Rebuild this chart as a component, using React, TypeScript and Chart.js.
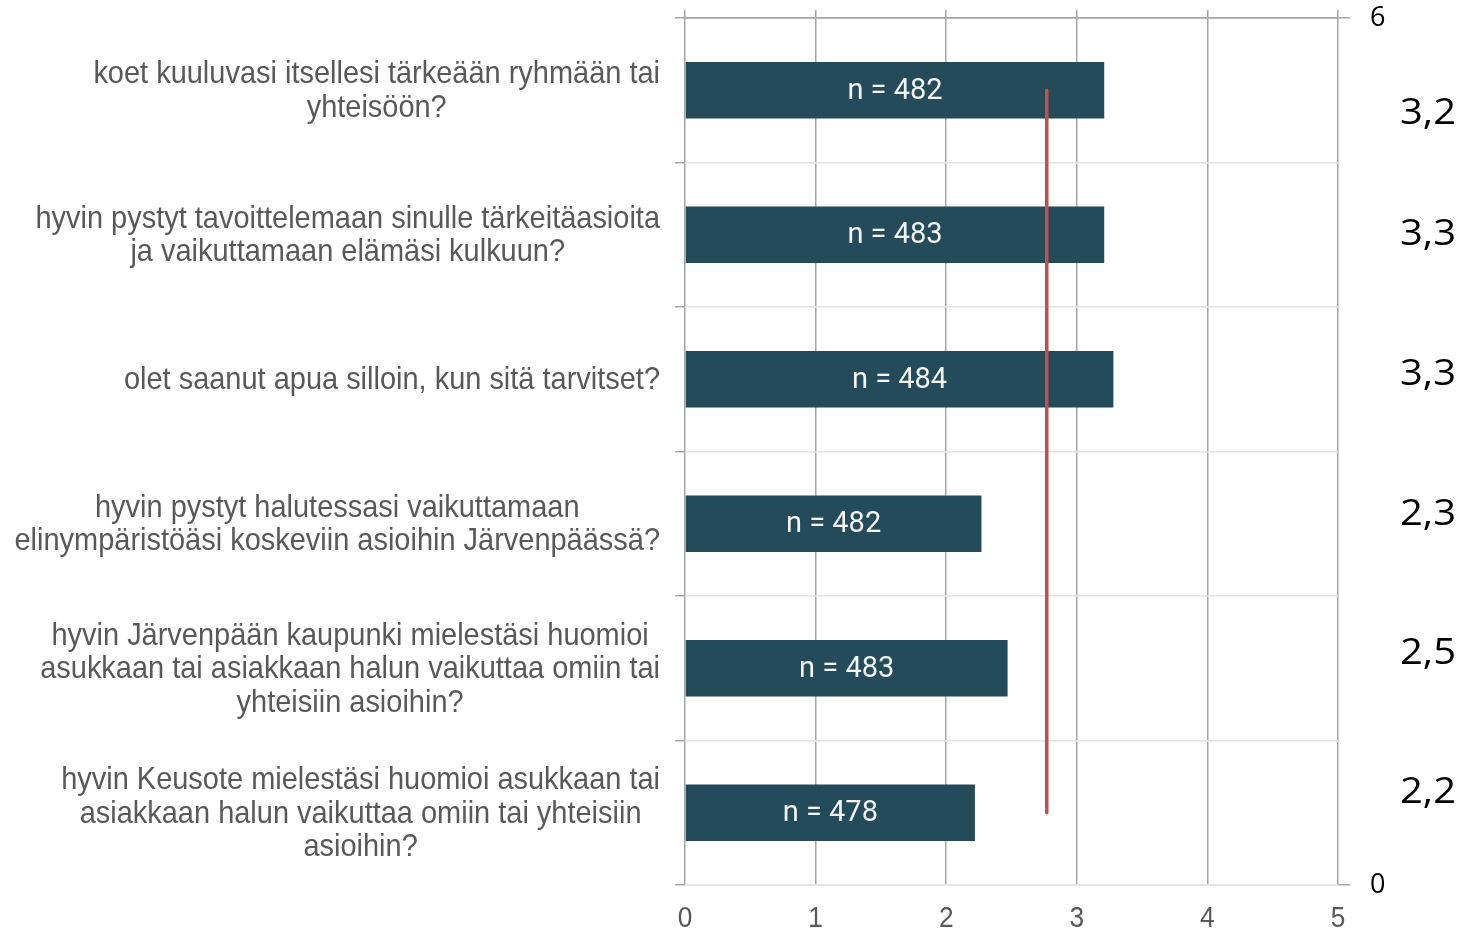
import React, { useEffect, useRef } from "react";
import { Chart, registerables } from "chart.js";

Chart.register(...registerables);

const questionLabels: string[][] = [
  ["koet kuuluvasi itsellesi tärkeään ryhmään tai", "yhteisöön?"],
  ["hyvin pystyt tavoittelemaan sinulle tärkeitäasioita", "ja vaikuttamaan elämäsi kulkuun?"],
  ["olet saanut apua silloin, kun sitä tarvitset?"],
  ["hyvin pystyt halutessasi vaikuttamaan", "elinympäristöäsi koskeviin asioihin Järvenpäässä?"],
  ["hyvin Järvenpään kaupunki mielestäsi huomioi", "asukkaan tai asiakkaan halun vaikuttaa omiin tai", "yhteisiin asioihin?"],
  ["hyvin Keusote mielestäsi huomioi asukkaan tai", "asiakkaan halun vaikuttaa omiin tai yhteisiin", "asioihin?"],
];
const meanValues = [3.21, 3.21, 3.28, 2.27, 2.47, 2.22];
const respondentCounts = [482, 483, 484, 482, 483, 478];
const overallMeanLine = [2.77, 2.77, 2.77, 2.77, 2.77, 2.77];
const roundedValueLabels = ["3,2", "3,3", "3,3", "2,3", "2,5", "2,2"];
const xAxisMin = 0;
const xAxisMax = 5;
const rightAxisMin = 0;
const rightAxisMax = 6;

// layout-only nudges for the large value labels on the right
const valueLabelNudge = [23, 0, -5, -9, -15, -20];

const LABEL_FONT = '32px "Liberation Sans", Arial, sans-serif';
const NARROW = 0.905;
const GRID_DARK = "#a6a6a6";
const GRID_LIGHT = "#e3e3e3";

function drawScaled(ctx: any, text: string, x: number, y: number, sx: number) {
  ctx.save();
  ctx.translate(x, y);
  ctx.scale(sx, 1);
  ctx.fillText(text, 0, 0);
  ctx.restore();
}

const customText = {
  id: "customText",
  afterDraw(chart: any) {
    const ctx = chart.ctx;
    const yScale = chart.scales.y;
    const xScale = chart.scales.x;
    const area = chart.chartArea;
    ctx.save();
    // left question labels: each block centred on itself, block right-aligned
    ctx.font = LABEL_FONT;
    ctx.fillStyle = "#595959";
    ctx.textBaseline = "middle";
    ctx.textAlign = "center";
    const lineH = 33.5;
    const rightEdge = area.left - 25;
    questionLabels.forEach((lines, i) => {
      const cy = yScale.getPixelForValue(i) + 1;
      const maxW = Math.max(...lines.map((l) => ctx.measureText(l).width)) * NARROW;
      const cx = rightEdge - maxW / 2;
      const startY = cy - ((lines.length - 1) * lineH) / 2;
      lines.forEach((l, j) => drawScaled(ctx, l, cx, startY + j * lineH, NARROW));
    });
    // x tick labels (narrow)
    ctx.font = '29px "Liberation Sans", Arial, sans-serif';
    for (let v = xAxisMin; v <= xAxisMax; v++) {
      drawScaled(ctx, String(v), xScale.getPixelForValue(v), area.bottom + 34, NARROW);
    }
    // bar labels
    const meta = chart.getDatasetMeta(1);
    ctx.font = '29px Roboto, "Liberation Sans", sans-serif';
    ctx.fillStyle = "#f4f4f4";
    meta.data.forEach((bar: any, i: number) => {
      const cx = (bar.base + bar.x) / 2;
      ctx.fillText(`n = ${respondentCounts[i]}`, cx, bar.y + 1);
    });
    // right large values
    ctx.font = '37px "Open Sans", "DejaVu Sans", sans-serif';
    ctx.fillStyle = "#000000";
    ctx.textAlign = "right";
    roundedValueLabels.forEach((t, i) => {
      const cy = yScale.getPixelForValue(i) + valueLabelNudge[i];
      drawScaled(ctx, t, chart.width - 7, cy, 1.08);
    });
    ctx.restore();
  },
};

export default function App() {
  const ref = useRef<HTMLCanvasElement>(null);
  useEffect(() => {
    if (!ref.current) return;
    const chart = new Chart(ref.current, {
      type: "bar",
      data: {
        labels: questionLabels.map((l) => l.join(" ")),
        datasets: [
          {
            type: "line",
            label: "Keskiarvo",
            data: overallMeanLine,
            borderColor: "#c0504d",
            borderWidth: 3.5,
            borderCapStyle: "round",
            pointRadius: 0,
            fill: false,
            order: 0,
            xAxisID: "x",
            yAxisID: "y",
          } as any,
          {
            type: "bar",
            label: "Keskiarvo kysymyksittäin",
            data: meanValues,
            backgroundColor: "#244b5a",
            borderWidth: 0,
            barPercentage: 0.39,
            categoryPercentage: 1,
            order: 1,
            xAxisID: "x",
            yAxisID: "y",
          },
        ],
      },
      options: {
        indexAxis: "y",
        responsive: false,
        animation: false,
        layout: { padding: { left: 0, top: 10, right: 75, bottom: 0 } },
        plugins: { legend: { display: false }, tooltip: { enabled: false } },
        scales: {
          x: {
            type: "linear",
            position: "bottom",
            min: xAxisMin,
            max: xAxisMax,
            ticks: { stepSize: 1, display: false },
            grid: { color: GRID_DARK, lineWidth: 1.5, drawTicks: false },
            border: { display: false },
            afterFit: (s: any) => {
              s.height = 49;
            },
          },
          x2: {
            type: "linear",
            position: "top",
            min: xAxisMin,
            max: xAxisMax,
            offset: false,
            ticks: { display: false, stepSize: 1 },
            grid: { drawOnChartArea: false, tickLength: 8, color: GRID_DARK, lineWidth: 1.5 },
            border: { display: false },
            afterFit: (s: any) => {
              s.height = 8;
            },
          },
          y: {
            type: "category",
            position: "left",
            offset: true,
            ticks: { display: false },
            grid: {
              offset: true,
              tickLength: 10,
              lineWidth: 1.5,
              color: (c: any) => (c.index === 0 ? GRID_DARK : GRID_LIGHT),
              tickColor: GRID_DARK,
            },
            border: { display: false },
            afterFit: (s: any) => {
              s.width = 685;
              s.paddingTop = 0;
              s.paddingBottom = 0;
            },
          },
          y2: {
            type: "linear",
            position: "right",
            min: rightAxisMin,
            max: rightAxisMax,
            offset: false,
            ticks: {
              stepSize: 6,
              padding: 20,
              color: "#000000",
              font: { family: '"Open Sans", "DejaVu Sans", sans-serif', size: 27 },
            },
            grid: {
              offset: false,
              drawOnChartArea: true,
              tickLength: 12,
              lineWidth: 1.5,
              color: (c: any) => (c.tick && c.tick.value === rightAxisMax ? GRID_DARK : GRID_LIGHT),
              tickColor: GRID_DARK,
            },
            border: { display: false },
            afterFit: (s: any) => {
              s.width = 50;
              s.paddingTop = 0;
              s.paddingBottom = 0;
            },
          },
        },
      },
      plugins: [customText],
    });
    return () => chart.destroy();
  }, []);
  return (
    <div style={{ position: "fixed", left: 0, top: 0, width: 1463, height: 934, background: "#fff" }}>
      <canvas ref={ref} width={1463} height={934} style={{ display: "block" }} />
    </div>
  );
}
